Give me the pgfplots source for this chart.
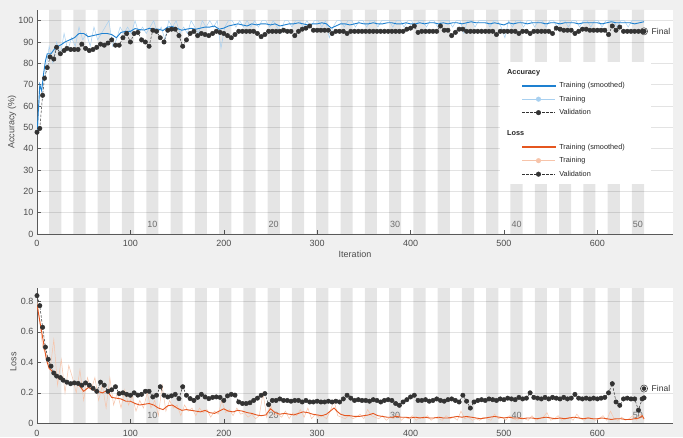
\documentclass[border=0pt]{standalone}
\usepackage{fontspec}
\setmainfont{Liberation Sans}
\usepackage{pgfplots}
\pgfplotsset{compat=1.18}
\definecolor{bgcol}{HTML}{F0F0F0}
\definecolor{smoothblue}{HTML}{1E80D0}
\definecolor{accraw}{HTML}{A8D0F0}
\definecolor{smoothorange}{HTML}{E5561F}
\definecolor{lossraw}{HTML}{F7C4AA}
\definecolor{valcol}{HTML}{333333}
\definecolor{tickcol}{HTML}{4D4D4D}
\definecolor{gridcol}{HTML}{E3E3E3}
\definecolor{epochcol}{HTML}{6E6E6E}
\tikzset{epochlbl/.style={text=epochcol, font=\fontsize{9}{10}\selectfont}}
\pgfplotsset{
  mpl/.style={
    scale only axis, width=636pt, xmin=0, xmax=681,
    axis background/.style={fill=white},
    axis x line*=bottom, axis y line*=left,
    axis line style={black!65, line width=0.5pt, -},
    tick align=inside, major tick length=4pt,
    tick style={black!65, line width=0.5pt},
    xtick={0,100,...,600},
    ymajorgrids, grid style={gridcol, line width=0.5pt},
    tick label style={font=\fontsize{9}{10}\selectfont, text=tickcol},
    label style={font=\fontsize{9}{10}\selectfont, text=tickcol},
    /pgf/number format/assume math mode=true,
    xticklabel style={yshift=-3pt},
  },
  band/.style={const plot, fill=black, fill opacity=0.1, draw=none, forget plot},
  smooth acc/.style={color=smoothblue, line width=0.9pt, forget plot},
  raw acc/.style={color=accraw, line width=0.5pt, forget plot},
  smooth loss/.style={color=smoothorange, line width=0.9pt, forget plot},
  raw loss/.style={color=lossraw, line width=0.5pt, forget plot},
  val/.style={color=valcol, line width=0.5pt, dash pattern=on 2.5pt off 1.5pt, mark=*, mark size=2.2pt, mark options={solid, fill=valcol, draw=valcol}, forget plot},
}
\begin{document}
\begin{tikzpicture}
\path[use as bounding box] (0pt,0pt) rectangle (683pt,437pt);
\fill[bgcol] (0pt,0pt) rectangle (683pt,437pt);

% ---------------- Accuracy ----------------
\begin{axis}[mpl, at={(37pt,203pt)}, anchor=south west, height=224pt,
  ymin=0, ymax=105, ytick={0,10,...,100},
  xlabel={Iteration}, ylabel={Accuracy (\%)},
  x label style={at={(axis description cs:0.5,-0.0893)}, anchor=center},
  y label style={at={(axis description cs:-0.0393,0.5)}, anchor=center},
  legend style={at={(rel axis cs:0.728,0.768)}, anchor=north west, draw=none, fill=white,
    inner xsep=7pt, inner ysep=6.25pt, row sep=6pt, column sep=4pt,
    font=\fontsize{7.3}{8.5}\selectfont, text=black!85,
    nodes={inner sep=0pt, text height=6pt, text depth=1.5pt, text width=85pt, align=left}},
  legend cell align=left,
]
\addplot[band] coordinates {(0,0)(13,105)(26,0)(39,105)(52,0)(65,105)(78,0)(91,105)(104,0)(117,105)(130,0)(143,105)(156,0)(169,105)(182,0)(195,105)(208,0)(221,105)(234,0)(247,105)(260,0)(273,105)(286,0)(299,105)(312,0)(325,105)(338,0)(351,105)(364,0)(377,105)(390,0)(403,105)(416,0)(429,105)(442,0)(455,105)(468,0)(481,105)(494,0)(507,105)(520,0)(533,105)(546,0)(559,105)(572,0)(585,105)(598,0)(611,105)(624,0)(637,105)(650,0)} \closedcycle;
\node[epochlbl] at (axis cs:123.5,4.5) {10};
\node[epochlbl] at (axis cs:253.5,4.5) {20};
\node[epochlbl] at (axis cs:383.5,4.5) {30};
\node[epochlbl] at (axis cs:513.5,4.5) {40};
\node[epochlbl] at (axis cs:643.5,4.5) {50};
% raw training accuracy
\addplot[raw acc] coordinates {(0,47)(1,50)(3,69)(5,70)(9,75)(13,88)(17,80)(21,90)(25,84)(29,94)(33,86)(37,92)(41,88)(45,97)(49,91)(53,94)(57,88)(61,97)(65,91)(69,94)(73,97)(77,100)(81,88)(85,91)(89,97)(93,94)(97,97)(101,94)(105,100)(109,94)(113,97)(117,94)(121,97)(125,100)(129,94)(133,97)(137,91)(141,100)(145,97)(149,100)(153,94)(157,97)(161,94)(165,100)(169,97)(173,94)(177,100)(181,97)(185,100)(189,97)(193,100)(197,87)(201,97)(205,100)(209,100)(213,97)(217,100)(221,97)(225,100)(229,97)(233,100)(237,97)(241,100)(245,100)(249,97)(253,100)(257,97)(261,94)(265,100)(269,100)(273,97)(277,100)(281,100)(285,97)(289,100)(293,97)(297,100)(301,100)(305,97)(309,100)(313,92)(317,97)(321,100)(325,100)(329,97)(333,100)(337,100)(341,97)(345,100)(349,100)(353,97)(357,100)(361,100)(365,97)(369,100)(373,100)(377,100)(381,97)(385,100)(389,100)(393,97)(397,100)(401,100)(405,97)(409,100)(413,100)(417,97)(421,100)(425,100)(429,97)(433,100)(437,100)(441,100)(445,97)(449,100)(453,100)(457,94)(461,100)(465,100)(469,97)(473,100)(477,100)(481,100)(485,97)(489,100)(493,100)(497,97)(501,92)(505,100)(509,97)(513,100)(517,100)(521,97)(525,100)(529,100)(533,97)(537,100)(541,100)(545,97)(549,100)(553,100)(557,97)(561,100)(565,100)(569,97)(573,100)(577,100)(581,97)(585,100)(589,100)(593,97)(597,100)(601,100)(605,97)(609,100)(613,100)(617,100)(621,97)(625,100)(629,100)(633,97)(637,100)(641,100)(645,100)(649,100)};
% smoothed training accuracy
\addplot[smooth acc] coordinates {(0,47)(2,62)(3,70)(5,67)(7,75)(9,81)(11,84.5)(15,84.5)(20,87.5)(25,88.5)(30,90)(35,91)(40,92)(45,94)(50,94)(55,92.5)(60,93)(65,93.5)(70,94)(75,94)(80,93.5)(85,92)(90,94.5)(95,95)(100,95)(105,96.3)(110,95.8)(115,95.6)(120,96.4)(125,96)(130,96)(135,95.4)(140,97)(145,97.2)(150,96.4)(155,95.5)(160,96)(165,96.4)(170,96)(175,96.5)(180,97)(185,97)(190,97.5)(195,96)(200,96.5)(205,97.5)(210,98)(215,98.5)(220,98)(225,97.5)(230,98.5)(235,98)(240,98.5)(245,98.5)(250,98)(255,98.5)(260,97.5)(265,98)(270,98.5)(275,98.5)(280,99)(285,98.5)(290,98)(295,98.5)(300,98.5)(305,99)(310,98.5)(315,96.5)(320,97.5)(325,98.5)(330,98.5)(335,98)(340,98.5)(345,99)(350,98.5)(355,98.5)(360,99)(365,98.5)(370,98.5)(375,99)(380,99)(385,98.5)(390,98.5)(395,99)(400,98.5)(405,98.5)(410,99)(415,98.5)(420,99)(425,99)(430,98.5)(435,99)(440,98.5)(445,99)(450,99)(455,98.5)(460,99)(465,99.5)(470,99)(475,99)(480,99)(485,98.5)(490,99)(495,98.5)(500,98)(505,99)(510,98.5)(515,99)(520,99)(525,98.5)(530,99)(535,99)(540,99)(545,98.5)(550,99)(555,99)(560,98.5)(565,99)(570,99)(575,99)(580,98.5)(585,99)(590,99)(595,99)(600,99)(605,98.5)(610,99)(615,99.5)(620,99)(625,99)(630,99)(635,99)(640,98.5)(645,99)(650,99.5)};
% validation accuracy
\addplot[val] coordinates {(0,47.7)(3,49.5)(6,65)(8,73)(11,78)(14,83)(18,82)(21,87.5)(25,84.5)(29,86)(32,87)(36,86.5)(40,86.5)(44,86.5)(48,89)(52,87)(56,86)(60,86.5)(64,87.5)(68,89)(72,88.5)(76,89.5)(80,91)(84,88.5)(88,88.5)(92,92)(96,94)(100,90)(104,94)(108,94.5)(112,91)(116,90)(120,88)(124,95.5)(128,95)(132,92)(136,90)(140,95.5)(144,96)(148,96)(152,93)(156,88)(160,91)(164,94)(168,95)(172,93)(176,94)(180,93.5)(184,93)(188,94)(192,95)(196,94.5)(200,94)(204,93)(208,92)(212,93.5)(216,95)(220,95)(224,95)(228,95)(232,95)(236,94)(240,92.5)(244,93.5)(248,95)(252,95)(256,95)(260,95)(264,95.5)(268,95)(272,95)(276,93)(280,95)(284,96)(288,96.5)(292,97.5)(296,95.5)(300,95.5)(304,95.5)(308,95.5)(312,95.5)(316,94)(320,95)(324,95)(328,95)(332,94)(336,95)(340,95)(344,95)(348,95)(352,95)(356,95)(360,95)(364,95)(368,95)(372,95)(376,95)(380,95)(384,95)(388,95)(392,95)(396,96)(400,96.5)(404,97.5)(408,94.5)(412,95)(416,95)(420,95)(424,95)(428,95)(432,97.5)(436,95.5)(440,95.5)(444,93)(448,94.5)(452,96)(456,96)(460,95)(464,95)(468,95)(472,95)(476,95)(480,95)(484,95)(488,95)(492,93.5)(496,95)(500,95)(504,95)(508,95)(512,95)(516,94)(520,95)(524,95)(528,94)(532,95)(536,95)(540,95)(544,95)(548,95)(552,94)(556,96.5)(560,96)(564,95.5)(568,95.5)(572,95.5)(576,94)(580,95)(584,96)(588,96)(592,95.5)(596,95.5)(600,95.5)(604,95.5)(608,95.5)(612,93.5)(616,97.5)(620,95.5)(624,97)(628,95)(632,95)(636,95)(640,95)(644,95)(648,95)(650,95)};
% final
\addplot[only marks, mark=*, mark size=2pt, color=valcol, forget plot] coordinates {(650,95)};
\addplot[only marks, mark=o, mark size=3.6pt, color=valcol, line width=0.5pt, forget plot] coordinates {(650,95)};
\node[anchor=west, inner sep=0pt, font=\fontsize{8.5}{10}\selectfont, text=black!80] at (axis cs:658,95) {Final};
% legend
\addlegendimage{legend image code/.code={\node[anchor=base west, inner sep=0pt, text width=40pt, text height=6pt, text depth=1.5pt, font=\fontsize{7.3}{8.5}\selectfont\bfseries] at (-15pt,-2.25pt) {Accuracy};}}
\addlegendentry{}
\addlegendimage{legend image code/.code={\fill[smoothblue] (0pt,-0.5pt) rectangle (33pt,0.5pt); \fill[white, opacity=0] (16.5pt,0pt) circle[radius=2.3pt];}}
\addlegendentry{Training (smoothed)}
\addlegendimage{legend image code/.code={\draw[accraw, line width=0.6pt] (0pt,0pt) -- (33pt,0pt); \fill[accraw] (16.5pt,0pt) circle[radius=2.3pt];}}
\addlegendentry{Training}
\addlegendimage{legend image code/.code={\draw[valcol, line width=0.5pt, dash pattern=on 2.5pt off 1.5pt] (0pt,0pt) -- (33pt,0pt); \fill[valcol] (16.5pt,0pt) circle[radius=2.3pt];}}
\addlegendentry{Validation}
\addlegendimage{legend image code/.code={\node[anchor=base west, inner sep=0pt, text width=40pt, text height=13.5pt, text depth=1.5pt, font=\fontsize{7.3}{8.5}\selectfont\bfseries] at (-15pt,-2.25pt) {Loss};}}
\addlegendentry{}
\addlegendimage{legend image code/.code={\fill[smoothorange] (0pt,-0.5pt) rectangle (33pt,0.5pt); \fill[white, opacity=0] (16.5pt,0pt) circle[radius=2.3pt];}}
\addlegendentry{Training (smoothed)}
\addlegendimage{legend image code/.code={\draw[lossraw, line width=0.6pt] (0pt,0pt) -- (33pt,0pt); \fill[lossraw] (16.5pt,0pt) circle[radius=2.3pt];}}
\addlegendentry{Training}
\addlegendimage{legend image code/.code={\draw[valcol, line width=0.5pt, dash pattern=on 2.5pt off 1.5pt] (0pt,0pt) -- (33pt,0pt); \fill[valcol] (16.5pt,0pt) circle[radius=2.3pt];}}
\addlegendentry{Validation}
\end{axis}

% ---------------- Loss ----------------
\begin{axis}[mpl, at={(37pt,13.7pt)}, anchor=south west, height=135.3pt,
  ymin=0, ymax=0.888, ytick={0,0.2,0.4,0.6,0.8},
  ylabel={Loss},
  y label style={at={(axis description cs:-0.0374,0.455)}, anchor=center},
]
\addplot[band] coordinates {(0,0)(13,0.888)(26,0)(39,0.888)(52,0)(65,0.888)(78,0)(91,0.888)(104,0)(117,0.888)(130,0)(143,0.888)(156,0)(169,0.888)(182,0)(195,0.888)(208,0)(221,0.888)(234,0)(247,0.888)(260,0)(273,0.888)(286,0)(299,0.888)(312,0)(325,0.888)(338,0)(351,0.888)(364,0)(377,0.888)(390,0)(403,0.888)(416,0)(429,0.888)(442,0)(455,0.888)(468,0)(481,0.888)(494,0)(507,0.888)(520,0)(533,0.888)(546,0)(559,0.888)(572,0)(585,0.888)(598,0)(611,0.888)(624,0)(637,0.888)(650,0)} \closedcycle;
\node[epochlbl] at (axis cs:123.5,0.055) {10};
\node[epochlbl] at (axis cs:253.5,0.055) {20};
\node[epochlbl] at (axis cs:383.5,0.055) {30};
\node[epochlbl] at (axis cs:513.5,0.055) {40};
\node[epochlbl] at (axis cs:643.5,0.055) {50};
% raw training loss
\addplot[raw loss] coordinates {(0,0.8)(2,0.72)(6,0.5)(10,0.45)(14,0.35)(18,0.55)(22,0.25)(26,0.42)(30,0.2)(34,0.38)(38,0.3)(42,0.2)(46,0.35)(50,0.15)(54,0.3)(58,0.22)(62,0.3)(66,0.15)(70,0.25)(74,0.1)(78,0.3)(82,0.12)(86,0.2)(90,0.1)(94,0.22)(98,0.12)(102,0.18)(106,0.08)(110,0.15)(114,0.1)(118,0.2)(122,0.1)(126,0.15)(130,0.05)(134,0.25)(138,0.08)(142,0.15)(146,0.1)(150,0.12)(154,0.05)(158,0.12)(162,0.08)(166,0.1)(170,0.05)(174,0.1)(178,0.07)(182,0.09)(186,0.04)(190,0.08)(194,0.06)(198,0.15)(202,0.07)(206,0.09)(210,0.05)(214,0.1)(218,0.06)(222,0.07)(226,0.04)(230,0.06)(234,0.03)(238,0.05)(242,0.2)(246,0.04)(250,0.12)(254,0.05)(258,0.06)(262,0.04)(266,0.08)(270,0.03)(274,0.07)(278,0.05)(282,0.09)(286,0.04)(290,0.1)(294,0.03)(298,0.06)(302,0.04)(306,0.05)(310,0.03)(314,0.08)(318,0.15)(322,0.05)(326,0.04)(330,0.03)(334,0.05)(338,0.03)(342,0.04)(346,0.06)(350,0.03)(354,0.09)(358,0.05)(362,0.04)(366,0.03)(370,0.05)(374,0.02)(378,0.04)(382,0.03)(386,0.06)(390,0.02)(394,0.04)(398,0.03)(402,0.05)(406,0.02)(410,0.04)(414,0.03)(418,0.05)(422,0.02)(426,0.04)(430,0.03)(434,0.02)(438,0.05)(442,0.03)(446,0.04)(450,0.02)(454,0.08)(458,0.03)(462,0.04)(466,0.02)(470,0.03)(474,0.02)(478,0.04)(482,0.03)(486,0.02)(490,0.06)(494,0.03)(498,0.04)(502,0.02)(506,0.05)(510,0.03)(514,0.02)(518,0.04)(522,0.03)(526,0.02)(530,0.05)(534,0.02)(538,0.03)(542,0.04)(546,0.07)(550,0.02)(554,0.03)(558,0.05)(562,0.02)(566,0.03)(570,0.04)(574,0.02)(578,0.06)(582,0.03)(586,0.02)(590,0.04)(594,0.03)(598,0.02)(602,0.03)(606,0.05)(610,0.02)(614,0.08)(618,0.03)(622,0.02)(626,0.04)(630,0.02)(634,0.03)(638,0.05)(642,0.02)(646,0.06)(650,0.02)};
% smoothed training loss
\addplot[smooth loss] coordinates {(0,0.78)(3,0.67)(5,0.6)(7,0.53)(10,0.42)(13,0.36)(15,0.35)(20,0.31)(25,0.29)(30,0.28)(35,0.265)(40,0.27)(45,0.25)(50,0.21)(55,0.235)(60,0.22)(65,0.21)(70,0.2)(75,0.215)(80,0.17)(85,0.165)(90,0.16)(95,0.145)(100,0.145)(105,0.13)(110,0.12)(115,0.125)(120,0.13)(125,0.12)(130,0.1)(135,0.09)(140,0.115)(145,0.12)(150,0.1)(155,0.085)(160,0.09)(165,0.085)(170,0.08)(175,0.075)(180,0.085)(185,0.07)(190,0.065)(195,0.08)(200,0.095)(205,0.08)(210,0.075)(215,0.085)(220,0.08)(225,0.07)(230,0.065)(235,0.055)(240,0.05)(245,0.055)(250,0.095)(255,0.07)(260,0.06)(265,0.065)(270,0.06)(275,0.055)(280,0.065)(285,0.075)(290,0.07)(295,0.06)(300,0.055)(305,0.05)(310,0.06)(315,0.085)(318,0.1)(322,0.075)(325,0.06)(330,0.05)(335,0.05)(340,0.045)(345,0.045)(350,0.05)(355,0.055)(360,0.065)(365,0.05)(370,0.045)(375,0.04)(380,0.04)(385,0.045)(390,0.04)(395,0.04)(400,0.035)(405,0.04)(410,0.035)(415,0.04)(420,0.035)(425,0.035)(430,0.04)(435,0.035)(440,0.035)(445,0.04)(450,0.045)(455,0.04)(460,0.045)(465,0.04)(470,0.035)(475,0.03)(480,0.035)(485,0.04)(490,0.045)(495,0.04)(500,0.035)(505,0.04)(510,0.035)(515,0.035)(520,0.03)(525,0.035)(530,0.035)(535,0.03)(540,0.035)(545,0.04)(550,0.035)(555,0.03)(560,0.035)(565,0.03)(570,0.035)(575,0.04)(580,0.035)(585,0.03)(590,0.035)(595,0.03)(600,0.03)(605,0.035)(610,0.03)(615,0.025)(620,0.03)(625,0.03)(630,0.025)(635,0.025)(640,0.03)(645,0.035)(648,0.05)(650,0.03)};
% validation loss
\addplot[val] coordinates {(0,0.838)(3,0.772)(6,0.63)(9,0.5)(12,0.42)(15,0.375)(18,0.33)(21,0.31)(25,0.3)(28,0.283)(32,0.27)(36,0.26)(40,0.265)(44,0.262)(48,0.25)(52,0.265)(56,0.25)(60,0.23)(64,0.21)(68,0.27)(72,0.25)(76,0.21)(80,0.22)(84,0.24)(88,0.195)(92,0.2)(96,0.19)(100,0.184)(104,0.2)(108,0.185)(112,0.19)(116,0.21)(120,0.21)(124,0.173)(128,0.184)(132,0.24)(136,0.184)(140,0.173)(144,0.18)(148,0.19)(152,0.162)(156,0.24)(160,0.184)(164,0.162)(168,0.15)(172,0.17)(176,0.19)(180,0.173)(184,0.162)(188,0.17)(192,0.173)(196,0.17)(200,0.15)(204,0.18)(208,0.19)(212,0.185)(216,0.14)(220,0.13)(224,0.13)(228,0.135)(232,0.15)(236,0.165)(240,0.184)(244,0.195)(248,0.123)(252,0.15)(256,0.15)(260,0.16)(264,0.15)(268,0.15)(272,0.145)(276,0.15)(280,0.15)(284,0.14)(288,0.15)(292,0.14)(296,0.14)(300,0.145)(304,0.14)(308,0.14)(312,0.145)(316,0.14)(320,0.145)(324,0.14)(328,0.16)(332,0.184)(336,0.165)(340,0.15)(344,0.155)(348,0.15)(352,0.15)(356,0.145)(360,0.155)(364,0.15)(368,0.14)(372,0.15)(376,0.155)(380,0.15)(384,0.13)(388,0.118)(392,0.14)(396,0.155)(400,0.173)(404,0.184)(408,0.15)(412,0.15)(416,0.155)(420,0.145)(424,0.15)(428,0.16)(432,0.15)(436,0.145)(440,0.155)(444,0.16)(448,0.15)(452,0.14)(456,0.184)(460,0.145)(464,0.1)(468,0.14)(472,0.15)(476,0.155)(480,0.15)(484,0.16)(488,0.155)(492,0.15)(496,0.16)(500,0.155)(504,0.165)(508,0.16)(512,0.155)(516,0.17)(520,0.16)(524,0.165)(528,0.2)(532,0.17)(536,0.165)(540,0.16)(544,0.17)(548,0.16)(552,0.17)(556,0.165)(560,0.16)(564,0.17)(568,0.16)(572,0.165)(576,0.19)(580,0.165)(584,0.16)(588,0.165)(592,0.16)(596,0.165)(600,0.16)(604,0.165)(608,0.17)(612,0.2)(616,0.26)(620,0.14)(624,0.118)(628,0.16)(632,0.165)(636,0.16)(640,0.16)(644,0.086)(648,0.16)(650,0.167)};
% final
\addplot[only marks, mark=*, mark size=2pt, color=valcol, forget plot] coordinates {(650,0.228)};
\addplot[only marks, mark=o, mark size=3.6pt, color=valcol, line width=0.5pt, forget plot] coordinates {(650,0.228)};
\node[anchor=west, inner sep=0pt, font=\fontsize{8.5}{10}\selectfont, text=black!80] at (axis cs:658,0.228) {Final};
\end{axis}
\end{tikzpicture}
\end{document}
